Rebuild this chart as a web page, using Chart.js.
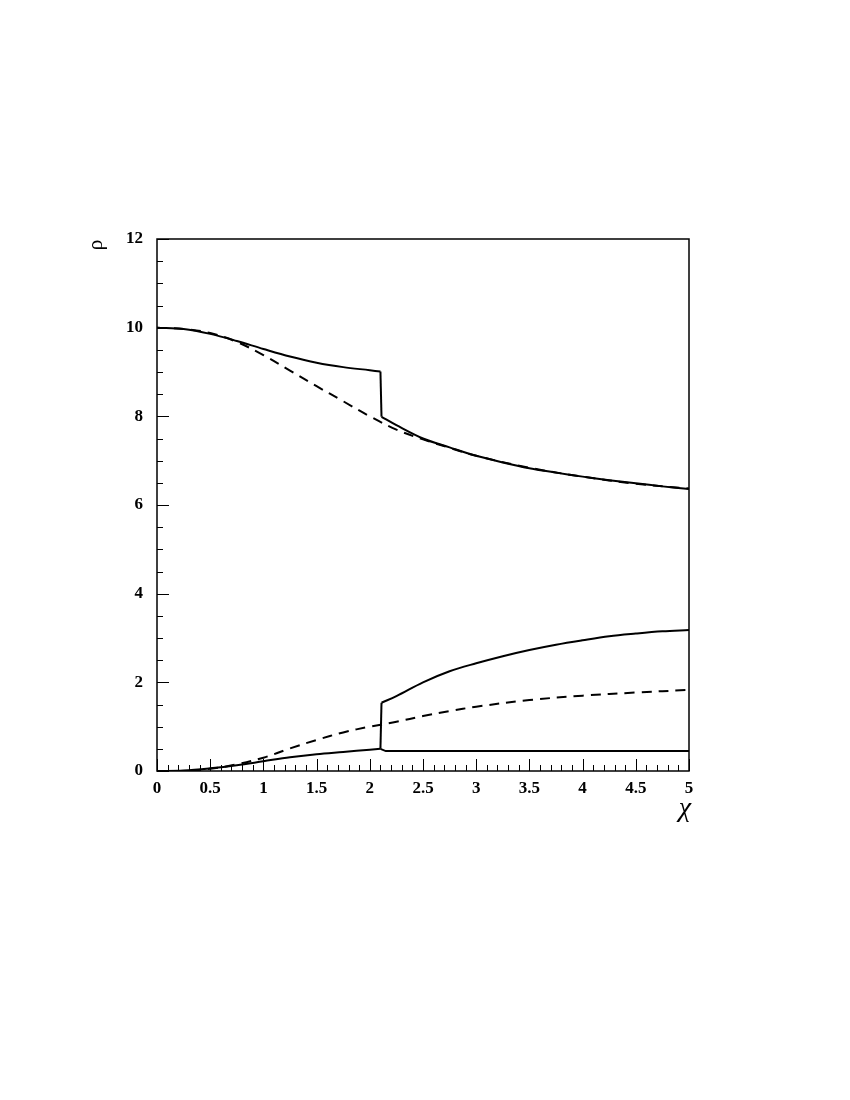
<!DOCTYPE html>
<html>
<head>
<meta charset="utf-8">
<script src="https://cdn.jsdelivr.net/npm/chart.js@4/dist/chart.umd.min.js"></script>
<style>
  html, body { margin: 0; padding: 0; background: #fff; }
  #wrap { width: 850px; height: 1100px; }
</style>
</head>
<body>
<div id="wrap"><canvas id="chart" width="850" height="1100"></canvas></div>
<script>
// values
const chiLeft = [0, 0.25, 0.5, 0.75, 1.0, 1.25, 1.5, 1.75, 2.0, 2.1];
const rhoTopLeft = [10.0, 9.97, 9.86, 9.70, 9.52, 9.35, 9.21, 9.11, 9.04, 9.01];
const rhoLowLeft = [0.0, 0.01, 0.06, 0.13, 0.22, 0.31, 0.38, 0.43, 0.48, 0.50];

const chiRight = [2.11, 2.25, 2.5, 2.75, 3.0, 3.25, 3.5, 3.75, 4.0, 4.25, 4.5, 4.75, 5.0];
const rhoTopRight = [7.99, 7.80, 7.50, 7.30, 7.11, 6.96, 6.83, 6.73, 6.64, 6.56, 6.49, 6.42, 6.36];
const rhoMidRight = [1.54, 1.69, 2.00, 2.25, 2.43, 2.59, 2.73, 2.85, 2.95, 3.04, 3.10, 3.15, 3.18];

const chiFlat = [2.1, 2.15, 2.25, 3.0, 4.0, 5.0];
const rhoFlat = [0.50, 0.45, 0.45, 0.45, 0.45, 0.45];

const chiDash = [0, 0.25, 0.5, 0.75, 1.0, 1.25, 1.5, 1.75, 2.0, 2.25, 2.5, 2.75, 3.0, 3.5, 4.0, 4.5, 5.0];
const rhoTopDash = [10.0, 9.97, 9.88, 9.68, 9.38, 9.03, 8.68, 8.34, 8.00, 7.70, 7.48, 7.29, 7.11, 6.84, 6.64, 6.48, 6.37];
const rhoLowDash = [0.0, 0.0, 0.05, 0.15, 0.30, 0.51, 0.70, 0.87, 1.00, 1.11, 1.24, 1.35, 1.45, 1.60, 1.70, 1.77, 1.83];

const xTicks = [0, 0.5, 1, 1.5, 2, 2.5, 3, 3.5, 4, 4.5, 5];
const yTicks = [0, 2, 4, 6, 8, 10, 12];

function pts(xs, ys) {
    return xs.map((x, i) => ({ x: x, y: ys[i] }));
}

function line(data, dashed, smooth) {
    return {
        data: data,
        borderColor: "#000",
        borderWidth: 2,
        borderDash: dashed ? [10, 7] : [],
        pointRadius: 0,
        fill: false,
        tension: smooth ? 0.35 : 0
    };
}

// vertical jumps at chi = 2.1
const jumpTop = [pts(chiLeft, rhoTopLeft).pop(), pts(chiRight, rhoTopRight)[0]];
const jumpLow = [pts(chiLeft, rhoLowLeft).pop(), pts(chiRight, rhoMidRight)[0]];

// frame, inward ticks and axis symbols
const framePlugin = {
    id: "frame",
    afterDraw(chart) {
        const ctx = chart.ctx;
        const a = chart.chartArea;
        const xs = chart.scales.x;
        const ys = chart.scales.y;
        ctx.save();
        ctx.strokeStyle = "#000";
        ctx.lineWidth = 1.5;
        ctx.strokeRect(a.left, a.top, a.right - a.left, a.bottom - a.top);

        ctx.lineWidth = 1;
        ctx.beginPath();
        for (let i = 0; i <= 50; i++) {
            const px = Math.round(xs.getPixelForValue(i / 10)) + 0.5;
            const len = (i % 5 === 0) ? 12 : 6;
            ctx.moveTo(px, a.bottom);
            ctx.lineTo(px, a.bottom - len);
        }
        for (let i = 0; i <= 24; i++) {
            const py = Math.round(ys.getPixelForValue(i / 2)) + 0.5;
            const len = (i % 4 === 0) ? 12 : 6;
            ctx.moveTo(a.left, py);
            ctx.lineTo(a.left + len, py);
        }
        ctx.stroke();

        ctx.fillStyle = "#000";
        ctx.font = "italic 28px 'Liberation Serif'";
        ctx.textAlign = "right";
        ctx.textBaseline = "alphabetic";
        ctx.fillText("χ", a.right + 2, a.bottom + 45);

        ctx.translate(a.left - 61, a.top + 6);
        ctx.rotate(-Math.PI / 2);
        ctx.font = "22px 'Liberation Serif'";
        ctx.textAlign = "center";
        ctx.textBaseline = "middle";
        ctx.fillText("ρ", 0, 0);
        ctx.restore();
    }
};

const tickFont = { family: "'Liberation Serif'", size: 17, weight: "bold" };

new Chart(document.getElementById("chart"), {
    type: "line",
    data: {
        datasets: [
            line(pts(chiLeft, rhoTopLeft), false, true),
            line(jumpTop, false, false),
            line(pts(chiRight, rhoTopRight), false, true),
            line(pts(chiLeft, rhoLowLeft), false, true),
            line(jumpLow, false, false),
            line(pts(chiRight, rhoMidRight), false, true),
            line(pts(chiFlat, rhoFlat), false, false),
            line(pts(chiDash, rhoTopDash), true, true),
            line(pts(chiDash, rhoLowDash), true, true)
        ]
    },
    options: {
        responsive: false,
        animation: false,
        layout: { padding: { left: 0, top: 239, right: 161, bottom: 289 } },
        plugins: {
            legend: { display: false },
            tooltip: { enabled: false }
        },
        scales: {
            x: {
                type: "linear",
                min: 0,
                max: 5,
                afterFit(scale) { scale.height = 40; },
                afterBuildTicks(scale) { scale.ticks = xTicks.map(v => ({ value: v })); },
                grid: { display: false, drawTicks: false },
                border: { display: false },
                ticks: {
                    padding: 7,
                    color: "#000",
                    maxRotation: 0,
                    autoSkip: false,
                    font: tickFont,
                    callback: value => String(value)
                }
            },
            y: {
                type: "linear",
                min: 0,
                max: 12,
                afterFit(scale) { scale.width = 157; },
                afterBuildTicks(scale) { scale.ticks = yTicks.map(v => ({ value: v })); },
                grid: { display: false, drawTicks: false },
                border: { display: false },
                ticks: {
                    padding: 14,
                    color: "#000",
                    autoSkip: false,
                    font: tickFont,
                    callback: value => String(value)
                }
            }
        }
    },
    plugins: [framePlugin]
});
</script>
</body>
</html>
